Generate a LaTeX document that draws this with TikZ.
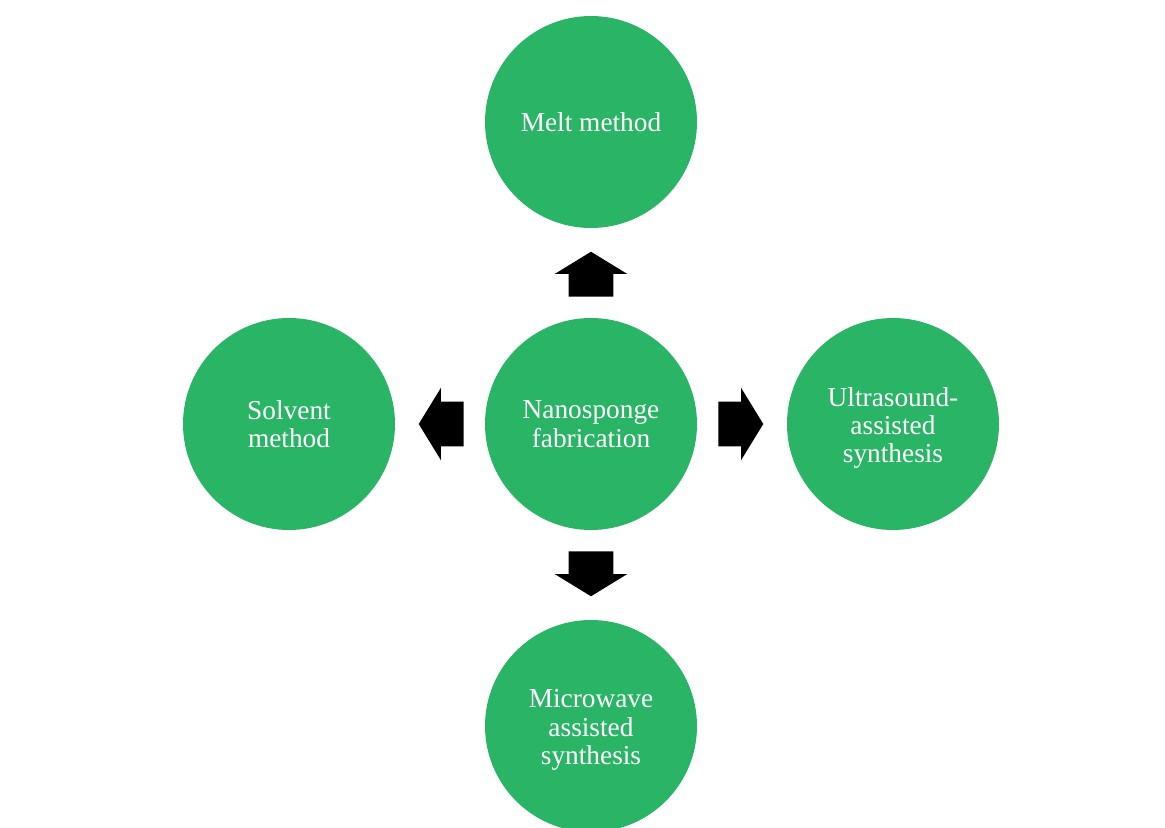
\documentclass[tikz,border=0pt]{standalone}
\usepackage{fontspec}
\setmainfont{Liberation Serif}
\usetikzlibrary{shapes.arrows}
\definecolor{methodgreen}{RGB}{42,180,101}
\begin{document}
\begin{tikzpicture}[x=0.75pt,y=-0.75pt,
  method/.style={circle,fill=methodgreen,draw=none,minimum size=159pt,inner sep=0pt,
    text=white,align=center,font=\fontsize{20.5}{21.3}\selectfont},
  blockarrow/.style={single arrow,fill=black,draw=none,
    minimum height=33.75pt,single arrow head extend=10.5pt,
    single arrow tip angle=117,anchor=tail},
  harrow/.style={blockarrow,inner xsep=0pt,inner ysep=16.5pt},
  varrow/.style={blockarrow,inner xsep=16.5pt,inner ysep=0pt}]
\useasboundingbox (0,0) rectangle (1165,828);
% the five methods
\node[method] (center) at (591,424) {Nanosponge\\fabrication};
\node[method] (melt) at (591,122) {Melt method};
\node[method] (solvent) at (289,424) {Solvent\\method};
\node[method] (ultra) at (893,424) {\raisebox{-3pt}[\height][\depth]{\parbox{110pt}{\centering Ultrasound-\\assisted\\synthesis}}};
\node[method] (micro) at (591,726) {\raisebox{-3pt}[\height][\depth]{\parbox{110pt}{\centering Microwave\\assisted\\synthesis}}};
% block arrows pointing outwards from the centre
\node[varrow,shape border rotate=90] (toMelt) at (591,297) {};
\node[varrow,shape border rotate=270] (toMicro) at (591,551) {};
\node[harrow,shape border rotate=180] (toSolvent) at (464,424) {};
\node[harrow,shape border rotate=0] (toUltra) at (718,424) {};
\end{tikzpicture}
\end{document}
